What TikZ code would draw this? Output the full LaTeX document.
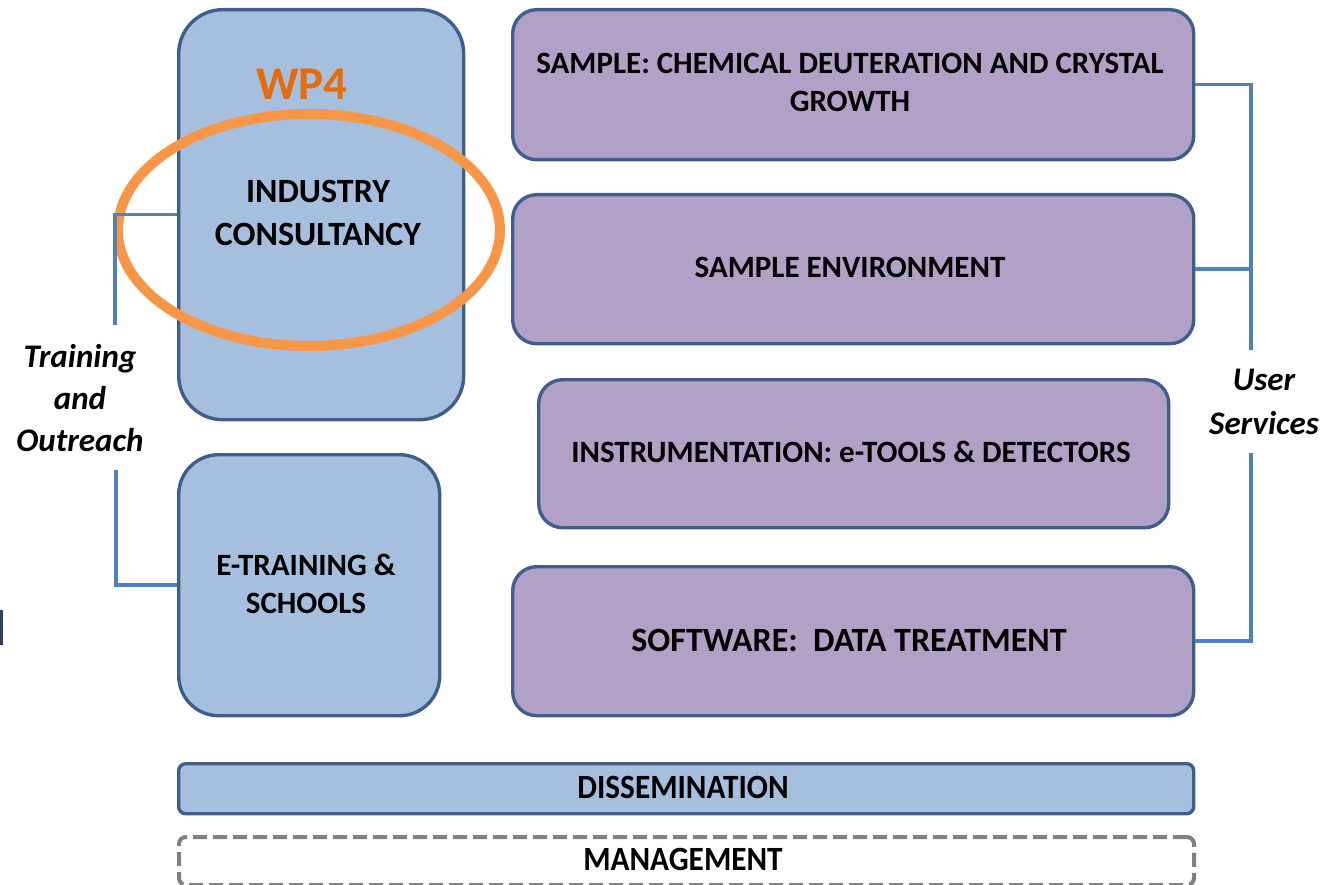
\documentclass[tikz,border=0pt]{standalone}
\usepackage{fontspec}
\setmainfont{Carlito}
\definecolor{bfill}{RGB}{167,191,222}
\definecolor{pfill}{RGB}{178,161,199}
\definecolor{bdraw}{RGB}{62,94,140}
\definecolor{lnk}{RGB}{79,129,189}
\definecolor{orng}{RGB}{247,150,70}
\definecolor{wpc}{RGB}{228,108,10}
\definecolor{mgray}{RGB}{128,128,128}
\tikzset{
  box/.style={draw=bdraw, line width=3.4pt, anchor=north west, inner sep=0pt, align=center},
  bluebox/.style={box, fill=bfill, rounded corners=44pt},
  purplebox/.style={box, fill=pfill, rounded corners=24pt},
  barbox/.style={box, fill=bfill, rounded corners=7pt},
  mgmtbox/.style={box, draw=mgray, dash pattern=on 14pt off 6pt, rounded corners=7pt, fill=white},
  link/.style={draw=lnk, line width=3.6pt},
  lbl/.style={align=center, font=\bfseries\fontsize{31}{38}\selectfont},
  side/.style={align=center, font=\bfseries\itshape\fontsize{33}{42}\selectfont}
}
\begin{document}
\begin{tikzpicture}[x=1pt,y=-1pt]
\useasboundingbox (0,0) rectangle (1328,885);
% left blue boxes
\node[bluebox, minimum width=285pt, minimum height=410pt] (ind) at (177,8) {};
\node[bluebox, rounded corners=40pt, minimum width=261pt, minimum height=261pt] (etr) at (177,453) {};
\node[lbl, font=\bfseries\fontsize{34}{43}\selectfont] (indt) at (318,213) {INDUSTRY\\CONSULTANCY};
\node[lbl, font=\bfseries\fontsize{31}{38}\selectfont] (etrt) at (306,584) {E-TRAINING \&\\SCHOOLS};
% WP4 and ellipse
\node[font=\bfseries\fontsize{47}{50}\selectfont, text=wpc] (wp4) at (302,84) {WP4};
\draw[orng, line width=10pt] (309,230) ellipse [x radius=191pt, y radius=116pt];
% purple boxes
\node[purplebox, minimum width=681pt, minimum height=150pt] (sam) at (511,8) {};
\node[lbl] (samt) at (850,82) {SAMPLE: CHEMICAL DEUTERATION AND CRYSTAL\\GROWTH};
\node[purplebox, minimum width=681pt, minimum height=149pt] (env) at (511,193) {};
\node[lbl] (envt) at (850,267) {SAMPLE ENVIRONMENT};
\node[purplebox, minimum width=630pt, minimum height=148pt] (ins) at (537,378) {};
\node[lbl] (inst) at (851,452) {INSTRUMENTATION: e-TOOLS \& DETECTORS};
\node[purplebox, minimum width=681pt, minimum height=149pt] (sw) at (511,565) {};
\node[lbl, font=\bfseries\fontsize{34}{38}\selectfont] (swt) at (849,640) {SOFTWARE:\ \ DATA TREATMENT};
% bottom bars
\node[barbox, minimum width=1015pt, minimum height=50pt] (dis) at (177,762) {};
\node[lbl, font=\bfseries\fontsize{34}{38}\selectfont] (dist) at (683,787) {\scalebox{0.92}[1]{DISSEMINATION}};
\node[mgmtbox, line width=4pt, minimum width=1015pt, minimum height=48pt] (man) at (177,835) {};
\node[lbl, font=\bfseries\fontsize{34}{38}\selectfont] (mant) at (683,859) {\scalebox{0.92}[1]{MANAGEMENT}};
% left bracket
\coordinate (la) at (115,325);
\coordinate (lb) at (116,470);
\draw[link] (la) |- (ind.west);
\draw[link] (lb) |- (etr.west);
\node[side] (train) at (80,398) {Training\\and\\Outreach};
% right bracket
\coordinate (ra) at (1251,350);
\coordinate (rb) at (1251,453);
\draw[link] (sam.east) -| (ra);
\draw[link] (env.east) -- (env.east -| ra);
\draw[link] (sw.east) -| (rb);
\node[side, font=\bfseries\itshape\fontsize{33}{44}\selectfont] (user) at (1264,402) {User\\Services};
% small mark at left edge
\coordinate (ma) at (1.5,610);
\coordinate (mb) at (1.5,645);
\draw[bdraw!70!black, line width=3pt] (ma) -- (mb);
\end{tikzpicture}
\end{document}
